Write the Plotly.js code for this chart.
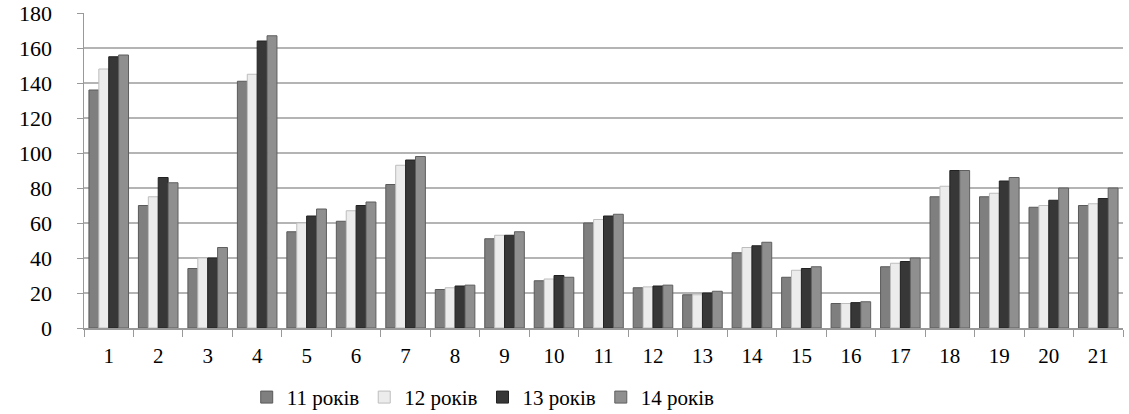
<!DOCTYPE html>
<html><head><meta charset="utf-8">
<script src="https://cdn.plot.ly/plotly-3.0.1.min.js"></script>
<style>html,body{margin:0;padding:0;background:#fff}</style>
</head><body><div id="chart" style="width:1129px;height:414px"></div>
<script>
const categories = ['1','2','3','4','5','6','7','8','9','10','11','12','13','14','15','16','17','18','19','20','21'];
const age11 = [136, 70, 34, 141, 55, 61, 82, 22, 51, 27, 60, 23, 19, 43, 29, 14, 35, 75, 75, 69, 70];
const age12 = [148, 75, 40, 145, 60, 67, 93, 23, 53, 28, 62, 23.5, 19, 46, 33, 14, 37, 81, 77, 70, 71];
const age13 = [155, 86, 40, 164, 64, 70, 96, 24, 53, 30, 64, 24, 20, 47, 34, 14.5, 38, 90, 84, 73, 74];
const age14 = [156, 83, 46, 167, 68, 72, 98, 24.5, 55, 29, 65, 24.5, 21, 49, 35, 15, 40, 90, 86, 80, 80];
const seriesNames = ['11 років', '12 років', '13 років', '14 років'];
const colors = ['#7f7f7f', '#ececec', '#373737', '#8f8f8f'];
const lineColors = ['#5a5a5a', '#bdbdbd', '#222222', '#5f5f5f'];
const all = [age11, age12, age13, age14];
const traces = all.map((v, i) => ({
  type: 'bar', x: categories, y: v, name: seriesNames[i],
  marker: {color: colors[i], line: {color: lineColors[i], width: 1}}
}));
const serif = "Liberation Serif";
const layout = {
  width: 1129, height: 414,
  margin: {l: 84, r: 6, t: 13, b: 86, autoexpand: false},
  paper_bgcolor: '#fff', plot_bgcolor: '#fff',
  barmode: 'group', bargap: 0.2, bargroupgap: 0,
  font: {family: serif, color: '#000', size: 21},
  xaxis: {type: 'category', ticks: 'outside', tickson: 'boundaries', ticklen: 7, tickcolor: '#999',
          showline: true, linecolor: '#999', linewidth: 1.5, tickfont: {family: serif, size: 21},
          ticklabelstandoff: 8},
  yaxis: {range: [0, 180], dtick: 20, showgrid: true, gridcolor: '#b4b4b4', gridwidth: 1.5,
          showline: true, linecolor: '#999', linewidth: 1.5, zeroline: false,
          ticks: 'outside', ticklen: 6, tickcolor: '#999',
          tickfont: {family: serif, size: 22}, ticklabelstandoff: 20},
  legend: {orientation: 'h', xref: 'container', yref: 'container', x: 0.428, xanchor: 'center',
           y: 0.04, yanchor: 'middle', font: {family: serif, size: 21}, traceorder: 'normal'},
  showlegend: true
};
Plotly.newPlot('chart', traces, layout, {staticPlot: true});
</script></body></html>
